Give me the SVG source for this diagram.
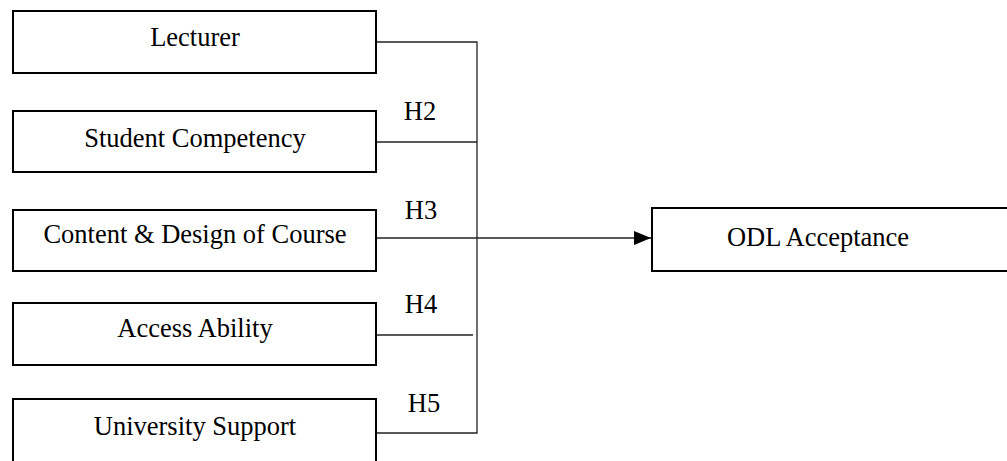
<svg xmlns="http://www.w3.org/2000/svg" width="1007" height="461" viewBox="0 0 1007 461">
<defs>
<style>
.box{fill:#fff;stroke:#000;stroke-width:2}
.t{font-family:"Liberation Serif","Times New Roman",serif;font-size:26.5px;fill:#000;text-anchor:middle}
.c{stroke:#222;stroke-width:1.3;fill:none}
</style>
<marker id="ah" markerWidth="17" markerHeight="14" refX="17" refY="7" orient="auto" markerUnits="userSpaceOnUse">
<path d="M0,0 L17,7 L0,14 Z" fill="#000"/>
</marker>
</defs>
<rect width="1007" height="461" fill="#fff"/>
<g id="connectors">
<path class="c" d="M376,42 H477 V433 H376"/>
<path class="c" d="M376,142 H477"/>
<path class="c" d="M374,335 H473"/>
<path class="c" d="M376,238 H651" marker-end="url(#ah)"/>
<text class="t" x="420" y="120">H2</text>
<text class="t" x="421" y="219">H3</text>
<text class="t" x="421" y="313">H4</text>
<text class="t" x="424" y="412">H5</text>
</g>
<g id="lecturer"><rect class="box" x="13" y="11" width="363" height="62"/><text class="t" x="195" y="46">Lecturer</text></g>
<g id="student"><rect class="box" x="13" y="111" width="363" height="61"/><text class="t" x="195" y="147">Student Competency</text></g>
<g id="content"><rect class="box" x="13" y="210" width="363" height="61"/><text class="t" x="195" y="243">Content &amp; Design of Course</text></g>
<g id="access"><rect class="box" x="13" y="303" width="363" height="62"/><text class="t" x="195" y="337">Access Ability</text></g>
<g id="university"><rect class="box" x="13" y="399" width="363" height="80"/><text class="t" x="195" y="435">University Support</text></g>
<g id="odl"><rect class="box" x="652" y="208" width="370" height="63"/><text class="t" x="818" y="246">ODL Acceptance</text></g>
</svg>
